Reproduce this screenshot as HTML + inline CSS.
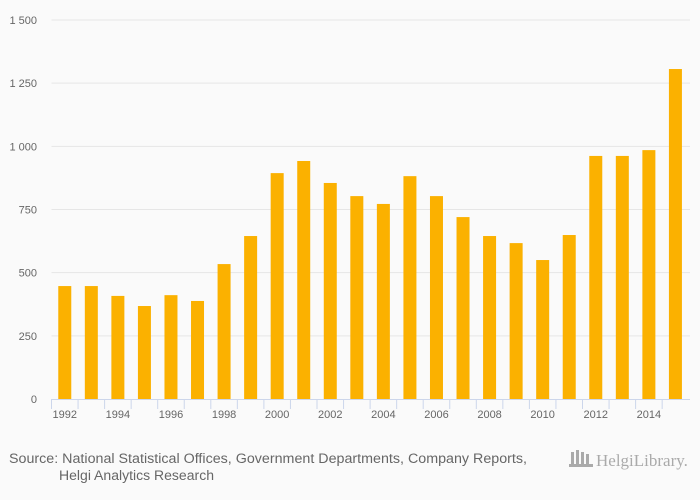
<!DOCTYPE html>
<html><head><meta charset="utf-8"><style>
body{margin:0;background:#fafafa;font-family:"Liberation Sans",sans-serif;}
svg{display:block}
</style></head><body>
<svg id="c" width="700" height="500">
<rect width="700" height="500" fill="#fafafa"/>
<g id="grid"></g><g id="bars"></g><g id="axis"></g>
<text x="9" y="463" font-size="13.5" fill="#666" textLength="518" lengthAdjust="spacingAndGlyphs">Source: National Statistical Offices, Government Departments, Company Reports,</text>
<text x="59" y="480" font-size="13.5" fill="#666" textLength="155" lengthAdjust="spacingAndGlyphs">Helgi Analytics Research</text>
<g>
<rect x="571" y="452" width="3" height="14" fill="#aaa"/><rect x="576" y="450" width="3" height="16" fill="#aaa"/><rect x="581" y="452" width="3" height="14" fill="#aaa"/><rect x="586" y="454" width="3" height="12" fill="#aaa"/><rect x="569" y="464" width="24" height="3" fill="#aaa"/>
<text x="596" y="466" font-size="17" fill="#aaa" font-family="Liberation Serif,serif">HelgiLibrary.</text>
</g>
</svg>
<script>
const years=[1992,1993,1994,1995,1996,1997,1998,1999,2000,2001,2002,2003,2004,2005,2006,2007,2008,2009,2010,2011,2012,2013,2014,2015];
const values=[447,447,408,368,411,388,534,645,894,942,855,803,772,882,803,720,645,617,550,649,962,962,985,1306];
const yTicks=[0,250,500,750,1000,1250,1500];
const yTickLabels=["0","250","500","750","1 000","1 250","1 500"];
const NS="http://www.w3.org/2000/svg";
const x0=51.5,step=26.55,y0=399,yTop=20,vmax=1500;
const xPos=i=>x0+step*(i+0.5);
const yPos=v=>y0-(y0-yTop)*v/vmax;
function mk(t,a,p){const e=document.createElementNS(NS,t);for(const k in a)e.setAttribute(k,a[k]);p.appendChild(e);return e;}
const grid=document.getElementById('grid'),bars=document.getElementById('bars'),axis=document.getElementById('axis');
yTicks.forEach((v,i)=>{
 if(v>0){const l=mk('line',{x1:x0,x2:690,y1:yPos(v),y2:yPos(v),stroke:'#e6e6e6'},grid);
 
 }
 const t=mk('text',{x:37,y:yPos(v)+4,'font-size':11,fill:'#666','text-anchor':'end'},grid);
 t.textContent=yTickLabels[i];
 
 
});
values.forEach((v,i)=>{
 const r=mk('rect',{x:xPos(i)-6.5,y:yPos(v),width:13,height:y0-yPos(v),fill:'#fbb100'},bars);
 
 
});
const ax=mk('line',{x1:x0,x2:690,y1:y0+0.5,y2:y0+0.5,stroke:'#ccd6eb'},axis);


years.forEach((y,i)=>{
 const tx=x0+step*i;
 const tk=mk('line',{x1:tx,x2:tx,y1:y0,y2:y0+10,stroke:'#ccd6eb'},axis);
 
 
 if(i%2===0){const t=mk('text',{x:xPos(i),y:418,'font-size':11,fill:'#666','text-anchor':'middle'},axis);
 t.textContent=y;
 
 }
});
</script>
</body></html>
